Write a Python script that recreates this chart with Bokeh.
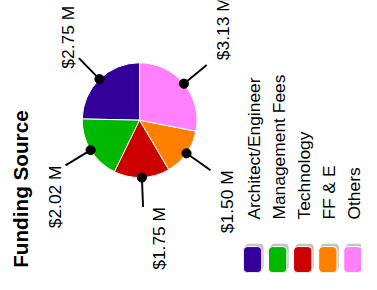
import math
from bokeh.plotting import figure
from bokeh.models import Range1d, ColumnDataSource
from bokeh.core.properties import value
from bokeh.embed import file_html
from bokeh.resources import INLINE

# ---- data ----
categories = ["Architect/Engineer", "Management Fees", "Technology", "FF & E", "Others"]
values = [2.75, 2.02, 1.75, 1.50, 3.13]
colors = ["#330099", "#00B800", "#CC0000", "#FF8000", "#FF80FF"]
title_text = "Funding Source"

# ---- layout: data units = reference px (y up: data y = H - ref y) ----
W, H = 377, 290
PW, PH = 361, 274
S = 0.965          # scale so the whole chart fits in the figure
SHIFT = 5          # px shift to the right
TXT_FIX = -8       # correction for rotated text baseline placement
FONT = "Liberation Sans"
cx, cy = 139, H - 124
R = 59.5
R_OUT = 90


def px(v):
    return f"{v * S:.1f}px"


x0 = -SHIFT / S
p = figure(width=PW, height=PH, output_backend="svg", toolbar_location=None,
           x_range=Range1d(x0, x0 + PW / S), y_range=Range1d(H - PH / S, H),
           x_axis_type=None, y_axis_type=None, tools="", min_border=0)
p.outline_line_color = None
p.grid.visible = False
p.background_fill_color = "white"
p.border_fill_color = "white"

total = sum(values)
starts, ends, mids = [], [], []
a = math.pi / 2
for v in values:
    span = v / total * 2 * math.pi
    starts.append(a)
    ends.append(a + span)
    mids.append(a + span / 2)
    a += span

src = ColumnDataSource(dict(start=starts, end=ends, color=colors))
p.wedge(x=cx, y=cy, radius=R, start_angle="start", end_angle="end",
        fill_color="color", line_color="white", line_width=1, source=src)

# connectors
dx = [cx + R * math.cos(m) for m in mids]
dy = [cy + R * math.sin(m) for m in mids]
ex = [cx + R_OUT * math.cos(m) for m in mids]
ey = [cy + R_OUT * math.sin(m) for m in mids]
p.segment(x0=dx, y0=dy, x1=ex, y1=ey, line_color="black", line_width=2 * S)
p.scatter(x=dx, y=dy, size=9.5 * S, fill_color="black", line_color="black")

# value labels (rotated)
for v, m, x1, y1 in zip(values, mids, ex, ey):
    lab = f"${v:.2f} M"
    if math.sin(m) < 0:
        align, ty = "right", y1
    else:
        align = "left"
        ty = y1 - 11 if math.cos(m) < 0 else y1 + 5
    if math.cos(m) < -0.2:
        tx = x1 - 3
    else:
        tx = x1 + 25
    p.text(x=[tx + TXT_FIX], y=[ty], text=[lab], angle=math.pi / 2,
           text_align=align, text_baseline="alphabetic",
           text_font=value(FONT), text_font_size=px(18), text_color="black")

# title
p.text(x=[24 + TXT_FIX], y=[H - 277], text=[title_text], angle=math.pi / 2,
       text_align="left", text_baseline="alphabetic",
       text_font=value(FONT), text_font_size=px(21.5), text_font_style="bold",
       text_color="black")

# legend
LX0, LSTEP = 256, 26
sw_w, sw_top, sw_bot = 19, H - 255, H - 282
lx = [LX0 + LSTEP * i for i in range(len(categories))]
p.quad(left=[x - sw_w / 2 + 2 for x in lx], right=[x + sw_w / 2 + 2 for x in lx],
       top=[sw_top + 3] * len(lx), bottom=[sw_bot + 3] * len(lx),
       fill_color="#c4c4c4", line_color=None, border_radius=4)
p.quad(left=[x - sw_w / 2 for x in lx], right=[x + sw_w / 2 for x in lx],
       top=[sw_top] * len(lx), bottom=[sw_bot] * len(lx),
       fill_color=colors, line_color="white", line_width=1, border_radius=4)
p.text(x=[x + 9 + TXT_FIX for x in lx], y=[H - 227] * len(lx), text=categories,
       angle=math.pi / 2, text_align="left", text_baseline="alphabetic",
       text_font=value(FONT), text_font_size=px(18), text_color="black")

open("out.html", "w").write(file_html(p, INLINE))
